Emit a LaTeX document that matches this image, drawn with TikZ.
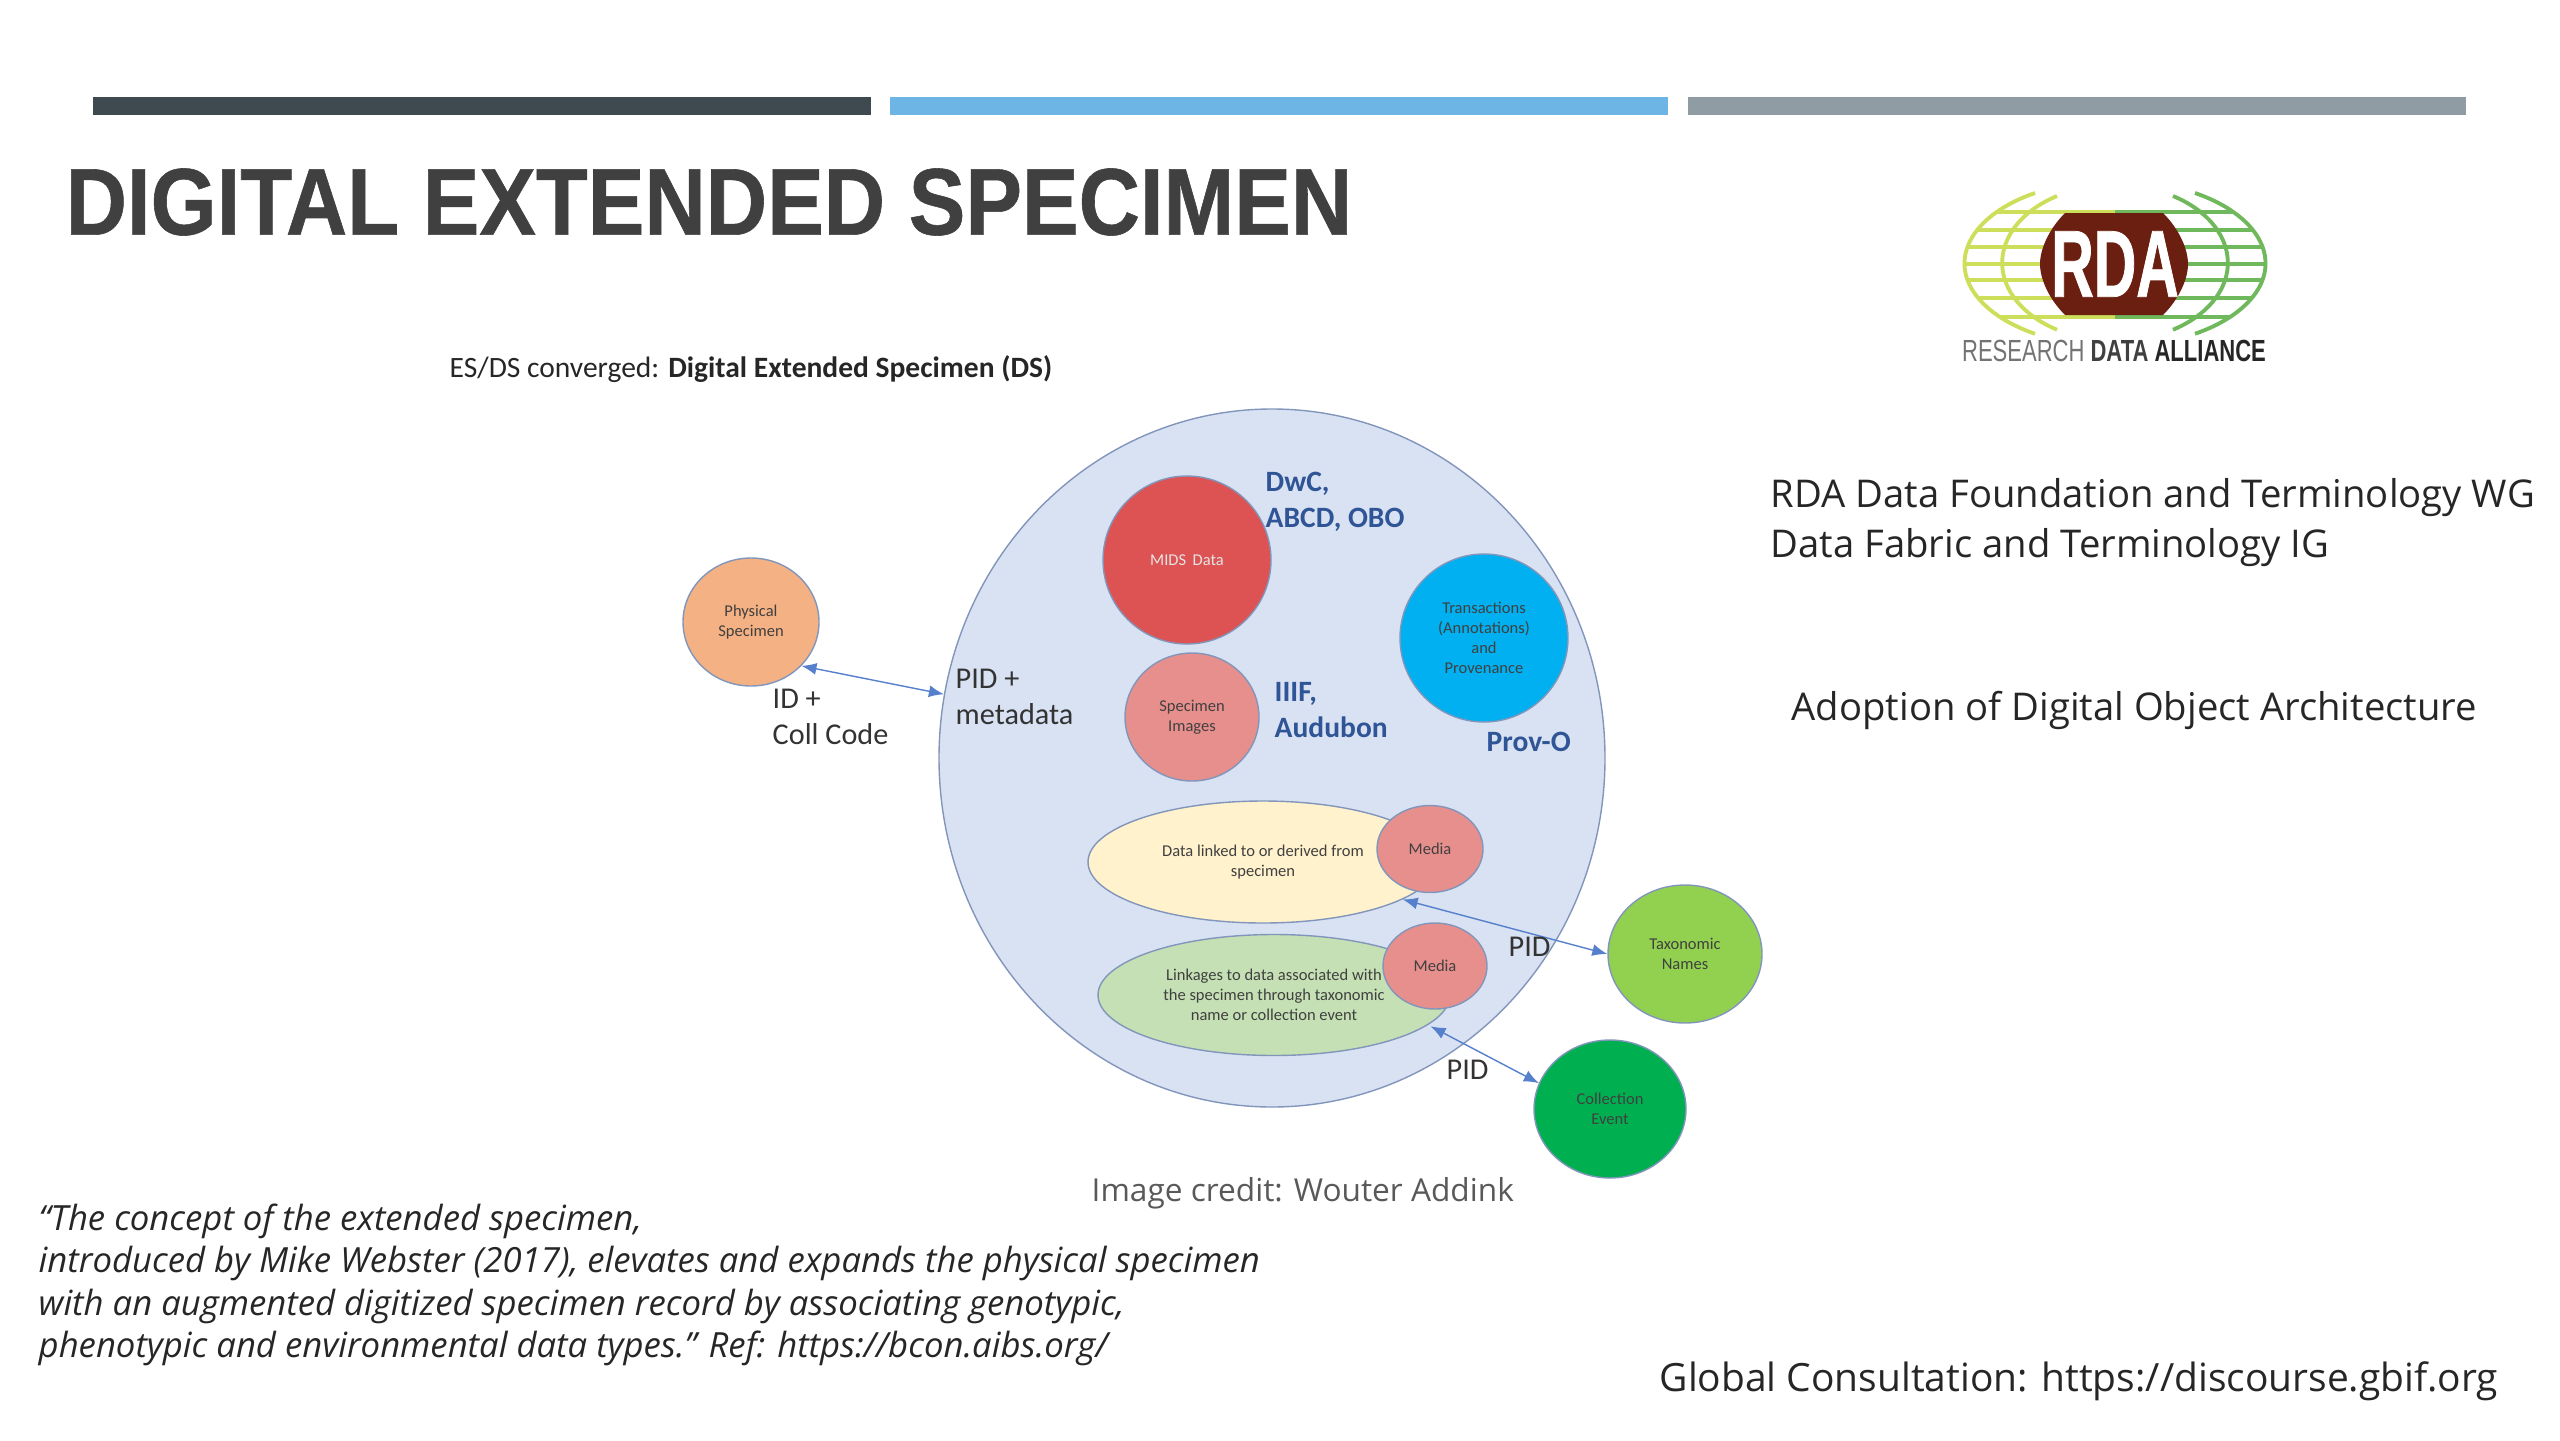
\documentclass[tikz,border=0pt]{standalone}
\usepackage{fontspec}
\setmainfont{Carlito}
\newfontfamily\titlefont[FakeStretch=0.895,FakeBold=0.6]{Liberation Sans}
\newfontfamily\slidefont{Open Sans}
\newfontfamily\narrowfont[FakeStretch=0.62,FakeBold=0.8]{Liberation Sans}
\newfontfamily\alliancefont[FakeStretch=0.72]{Liberation Sans}
\usepackage{xcolor}
\definecolor{figdark}{RGB}{62,74,79}
\definecolor{figsky}{RGB}{109,181,229}
\definecolor{figslate}{RGB}{143,156,163}
\definecolor{figtitle}{RGB}{64,64,64}
\definecolor{figedge}{RGB}{130,150,187}
\definecolor{figblue}{RGB}{47,85,151}
\definecolor{figarrow}{RGB}{86,128,204}
\definecolor{figbrown}{RGB}{107,31,16}
\definecolor{figlime}{RGB}{205,222,90}
\definecolor{figleaf}{RGB}{112,184,92}
\usetikzlibrary{shapes.geometric,arrows.meta,positioning,calc}

\begin{document}
\begin{tikzpicture}[
  x=1cm,y=-1cm,
  bar/.style={draw=none,minimum height=0.18cm,inner sep=0pt},
  blob/.style={ellipse,draw=figedge,line width=0.4pt,inner sep=0pt,align=center,
    font=\fontsize{4.7}{5.7}\selectfont,text=black!75},
  lbl/.style={anchor=west,align=left,inner sep=0pt,font=\fontsize{8.6}{10.2}\selectfont,text=black!80},
  std/.style={lbl,text=figblue,font=\fontsize{8.4}{10.2}\selectfont\bfseries},
  side/.style={anchor=west,align=left,inner sep=0pt,font=\slidefont\fontsize{10.88}{14.2}\selectfont,text=black!85},
  quoteline/.style={anchor=west,inner sep=0pt,font=\slidefont\itshape\fontsize{9.87}{12}\selectfont,text=black!85},
  ar/.style={{Latex[length=1.5mm,width=1.2mm]}-{Latex[length=1.5mm,width=1.2mm]},figarrow,line width=0.4pt}
]
\useasboundingbox (0,0) rectangle (25.6,14.4);
\node[bar,fill=figdark,minimum width=7.78cm] (bara) at (4.82,1.06) {};
\node[bar,fill=figsky,minimum width=7.78cm] (barb) at (12.79,1.06) {};
\node[bar,fill=figslate,minimum width=7.78cm] (barc) at (20.77,1.06) {};
\node[anchor=west,inner sep=0pt,text=figtitle,font=\titlefont\bfseries\fontsize{27}{32}\selectfont] (title) at (0.65,2.02) {DIGITAL EXTENDED SPECIMEN};
\node[anchor=west,inner sep=0pt,font=\fontsize{8.4}{10}\selectfont,text=black!85] (conv) at (4.49,3.69) {ES/DS converged: \textbf{Digital Extended Specimen (DS)}};
\node[blob,fill={rgb,255:red,217;green,226;blue,243},minimum width=6.66cm,minimum height=6.98cm] (ds) at (12.72,7.58) {};
\node[blob,fill={rgb,255:red,221;green,82;blue,82},text=white!90!black,minimum width=1.68cm,minimum height=1.68cm] (mids) at (11.87,5.60) {MIDS\, Data};
\node[blob,fill={rgb,255:red,230;green,143;blue,140},minimum width=1.34cm,minimum height=1.28cm] (images) at (11.92,7.17) {Specimen\\Images};
\node[blob,fill={rgb,255:red,0;green,176;blue,240},minimum width=1.68cm,minimum height=1.68cm] (trans) at (14.84,6.38) {Transactions\\(Annotations)\\and\\Provenance};
\node[blob,fill={rgb,255:red,244;green,177;blue,131},minimum width=1.36cm,minimum height=1.28cm] (phys) at (7.51,6.22) {Physical\\Specimen};
\node[blob,fill={rgb,255:red,255;green,242;blue,204},minimum width=3.50cm,minimum height=1.22cm] (linked) at (12.63,8.62) {Data linked to or derived from\\specimen};
\node[blob,fill={rgb,255:red,230;green,143;blue,140},minimum width=1.06cm,minimum height=0.87cm] (mediaa) at (14.30,8.49) {Media};
\node[blob,fill={rgb,255:red,197;green,224;blue,180},minimum width=3.52cm,minimum height=1.21cm] (assoc) at (12.74,9.95) {Linkages to data associated with\\the specimen through taxonomic\\name or collection event};
\node[blob,fill={rgb,255:red,230;green,143;blue,140},minimum width=1.04cm,minimum height=0.86cm] (mediab) at (14.35,9.66) {Media};
\node[blob,fill={rgb,255:red,146;green,208;blue,80},minimum width=1.54cm,minimum height=1.38cm] (taxon) at (16.85,9.54) {Taxonomic\\Names};
\node[blob,fill={rgb,255:red,0;green,176;blue,80},minimum width=1.52cm,minimum height=1.38cm] (event) at (16.10,11.09) {Collection\\Event};
\draw[ar] (phys.-41) -- (ds.169.6);
\draw[ar] (linked.-15) -- (taxon.180);
\draw[ar,shorten <=0.8pt] (assoc.-11) -- (event.160);
\node[lbl] (pidmeta) at (9.55,6.97) {PID +\\metadata};
\node[lbl] (idcode) at (7.72,7.17) {ID +\\Coll Code};
\node[lbl] (pidtax) at (15.08,9.47) {PID};
\node[lbl] (pidevent) at (14.46,10.70) {PID};
\node[std] (dwc) at (12.65,5.02) {DwC,\\ABCD, OBO};
\node[std] (iiif) at (12.74,7.10) {IIIF,\\Audubon};
\node[std] (prov) at (14.86,7.42) {Prov-O};
\node[side] (groups) at (17.70,5.23) {RDA Data Foundation and Terminology WG\\Data Fabric and Terminology IG};
\node[side] (adopt) at (17.91,7.10) {Adoption of Digital Object Architecture};
\node[side,font=\slidefont\fontsize{11.08}{14.2}\selectfont] (consult) at (16.59,13.81) {Global Consultation: https://discourse.gbif.org};
\node[side,text=black!65,font=\slidefont\fontsize{9}{12}\selectfont] (credit) at (10.91,11.93) {Image credit: Wouter Addink};
\node[quoteline] (qa) at (0.38,12.21) {“The concept of the extended specimen,};
\node[quoteline] (qb) at (0.38,12.63) {introduced by Mike Webster (2017), elevates and expands the physical specimen};
\node[quoteline] (qc) at (0.38,13.06) {with an augmented digitized specimen record by associating genotypic,};
\node[quoteline] (qd) at (0.38,13.48) {phenotypic and environmental data types.” Ref: https://bcon.aibs.org/};
\begin{scope}
  \clip (21.15,2.63) ellipse [x radius=1.50,y radius=0.83];
  \foreach \ly in {2.12,2.30,2.47,2.64,2.80,2.98,3.17}{
    \draw[figlime,line width=1pt] (19.6,\ly) -- (21.15,\ly);
    \draw[figleaf,line width=1pt] (21.15,\ly) -- (22.7,\ly);
  }
\end{scope}
\draw[figlime,line width=1.1pt] (20.35,1.93) arc [start angle=238,end angle=122,x radius=1.50,y radius=0.83];
\draw[figlime,line width=1.1pt] (20.57,1.96) arc [start angle=239,end angle=121,x radius=1.13,y radius=0.78];
\draw[figleaf,line width=1.1pt] (21.95,1.93) arc [start angle=-58,end angle=58,x radius=1.50,y radius=0.83];
\draw[figleaf,line width=1.1pt] (21.73,1.96) arc [start angle=-59,end angle=59,x radius=1.13,y radius=0.78];
\fill[figbrown] (20.65,2.13) -- (21.63,2.13) .. controls (21.80,2.30) and (21.88,2.50) .. (21.88,2.64)
  .. controls (21.88,2.78) and (21.80,2.98) .. (21.63,3.15) -- (20.65,3.15)
  .. controls (20.48,2.98) and (20.40,2.78) .. (20.40,2.64) .. controls (20.40,2.50) and (20.48,2.30) .. (20.65,2.13) -- cycle;
\node[inner sep=0pt,text=white,font=\narrowfont\bfseries\fontsize{27}{30}\selectfont] (rda) at (21.15,2.64) {RDA};
\node[inner sep=0pt,font=\alliancefont\fontsize{8.7}{10}\selectfont,text=black!55] (alliance) at (21.14,3.51) {RESEARCH \textbf{\textcolor{black!75}{DATA}} \textbf{\textcolor{black!85}{ALLIANCE}}};
\end{tikzpicture}
\end{document}
